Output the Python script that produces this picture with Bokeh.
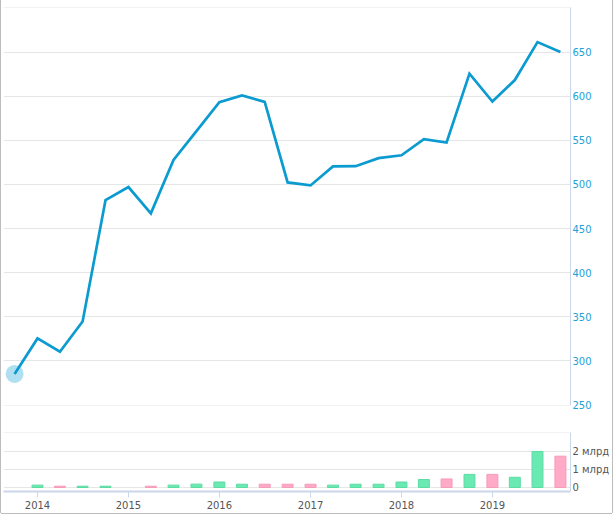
import pandas as pd
from bokeh.plotting import figure
from bokeh.layouts import column
from bokeh.models import Range1d, FixedTicker, DatetimeTickFormatter, ColumnDataSource
from bokeh.embed import file_html
from bokeh.resources import INLINE

# ---- data (quarterly) ----
quarters = ["2013-10-01", "2014-01-01", "2014-04-01", "2014-07-01", "2014-10-01",
            "2015-01-01", "2015-04-01", "2015-07-01", "2015-10-01",
            "2016-01-01", "2016-04-01", "2016-07-01", "2016-10-01",
            "2017-01-01", "2017-04-01", "2017-07-01", "2017-10-01",
            "2018-01-01", "2018-04-01", "2018-07-01", "2018-10-01",
            "2019-01-01", "2019-04-01", "2019-07-01", "2019-10-01"]
price = [285.3, 325.5, 310.4, 344.7, 482.2,
         497.0, 467.2, 527.7, 560.5,
         593.2, 600.8, 593.5, 502.3,
         498.9, 520.4, 520.7, 529.8,
         533.1, 551.2, 547.5, 625.5,
         593.9, 618.3, 661.3, 650.0]
# volume in billions (млрд); first point has no bar
volume = [0.0, 0.13, 0.07, 0.07, 0.07,
          0.0, 0.07, 0.13, 0.185,
          0.30, 0.18, 0.18, 0.18,
          0.18, 0.13, 0.18, 0.18,
          0.30, 0.44, 0.47, 0.72,
          0.72, 0.56, 1.98, 1.72]
year_ticks = ["2014-01-01", "2015-01-01", "2016-01-01", "2017-01-01", "2018-01-01", "2019-01-01"]
price_ticks = [250, 300, 350, 400, 450, 500, 550, 600, 650, 700]
volume_ticks = [0, 1, 2, 3]
volume_tick_labels = {0: "0", 1: "1 млрд", 2: "2 млрд", 3: ""}

LINE = "#0c9bd0"
GRID = "#e6e6e6"
AXIS = "#ccd6eb"
FONT = "DejaVu Sans"

dates = pd.to_datetime(quarters)
anchor = pd.Timestamp("2014-01-01")
x_start = anchor - pd.Timedelta(days=136.5)
x_end = x_start + pd.Timedelta(days=2276)
xr = Range1d(start=x_start.to_pydatetime(), end=x_end.to_pydatetime())
year_ms = [pd.Timestamp(t).value // 10**6 for t in year_ticks]

# ---- main price panel ----
main = figure(width=611, height=420, x_range=xr, y_range=Range1d(249.5, 700.5),
              x_axis_type="datetime", x_axis_location=None, y_axis_location="right",
              toolbar_location=None, output_backend="svg",
              min_border_left=2, min_border_right=42, min_border_top=7, min_border_bottom=15)
main.outline_line_color = None
main.xgrid.visible = False
main.ygrid.grid_line_color = GRID
main.ygrid.ticker = FixedTicker(ticks=price_ticks)
ya = main.yaxis[0]
ya.ticker = FixedTicker(ticks=price_ticks)
ya.major_label_overrides = {700: ""}
ya.axis_line_color = AXIS
ya.major_tick_line_color = None
ya.major_tick_out = 0
ya.major_tick_in = 0
ya.minor_tick_line_color = None
ya.minor_tick_out = 0
ya.minor_tick_in = 0
ya.major_label_standoff = 2
ya.major_label_text_color = "#1da1d6"
ya.major_label_text_font = FONT
ya.major_label_text_font_size = "10px"

src = ColumnDataSource(dict(x=dates, y=price))
main.scatter(x=[dates[0]], y=[price[0]], size=18, fill_color="#a9dcf1", line_color=None, fill_alpha=0.9)
main.line("x", "y", source=src, line_color=LINE, line_width=2.7, line_join="miter")

# ---- volume panel ----
vol = figure(width=611, height=93, x_range=xr, y_range=Range1d(-0.22, 3.02),
             x_axis_type="datetime", y_axis_location="right",
             toolbar_location=None, output_backend="svg",
             min_border_left=2, min_border_right=42, min_border_top=12, min_border_bottom=22)
vol.outline_line_color = None
vol.xgrid.visible = False
vol.ygrid.grid_line_color = GRID
vol.ygrid.ticker = FixedTicker(ticks=volume_ticks)
va = vol.yaxis[0]
va.ticker = FixedTicker(ticks=volume_ticks)
va.major_label_overrides = volume_tick_labels
va.axis_line_color = AXIS
va.major_tick_line_color = None
va.major_tick_out = 0
va.major_tick_in = 0
va.minor_tick_line_color = None
va.minor_tick_out = 0
va.minor_tick_in = 0
va.major_label_standoff = 2
va.major_label_text_color = "#555555"
va.major_label_text_font = FONT
va.major_label_text_font_size = "10px"

xa = vol.xaxis[0]
xa.ticker = FixedTicker(ticks=year_ms)
xa.formatter = DatetimeTickFormatter(years="%Y", months="%Y", days="%Y", hours="%Y",
                                     hourmin="%Y", minutes="%Y", minsec="%Y", seconds="%Y",
                                     milliseconds="%Y", microseconds="%Y")
xa.axis_line_color = AXIS
xa.axis_line_width = 2
xa.major_tick_line_color = AXIS
xa.major_tick_out = 6
xa.major_tick_in = 0
xa.minor_tick_line_color = None
xa.major_label_standoff = 3
xa.major_label_text_color = "#555555"
xa.major_label_text_font = FONT
xa.major_label_text_font_size = "10px"

bx, bt, bf, bl = [], [], [], []
for i in range(1, len(dates)):
    if volume[i] <= 0:
        continue
    up = price[i] >= price[i - 1]
    bx.append(dates[i])
    bt.append(volume[i])
    bf.append("#6be9b2" if up else "#ffaac7")
    bl.append("#5cdca4" if up else "#f79abb")
bsrc = ColumnDataSource(dict(x=bx, top=bt, fill=bf, line=bl))
vol.vbar(x="x", top="top", bottom=0, width=44 * 86400000, source=bsrc,
         fill_color="fill", line_color="line", line_width=1)

layout = column(main, vol, spacing=0,
                styles={"margin-left": "1px",
                        "box-shadow": "-1px 0 0 0 #bcbcbc, 1px 0 0 0 #bcbcbc, 0 1px 0 0 #bcbcbc"})

open("out.html", "w").write(file_html(layout, INLINE))
